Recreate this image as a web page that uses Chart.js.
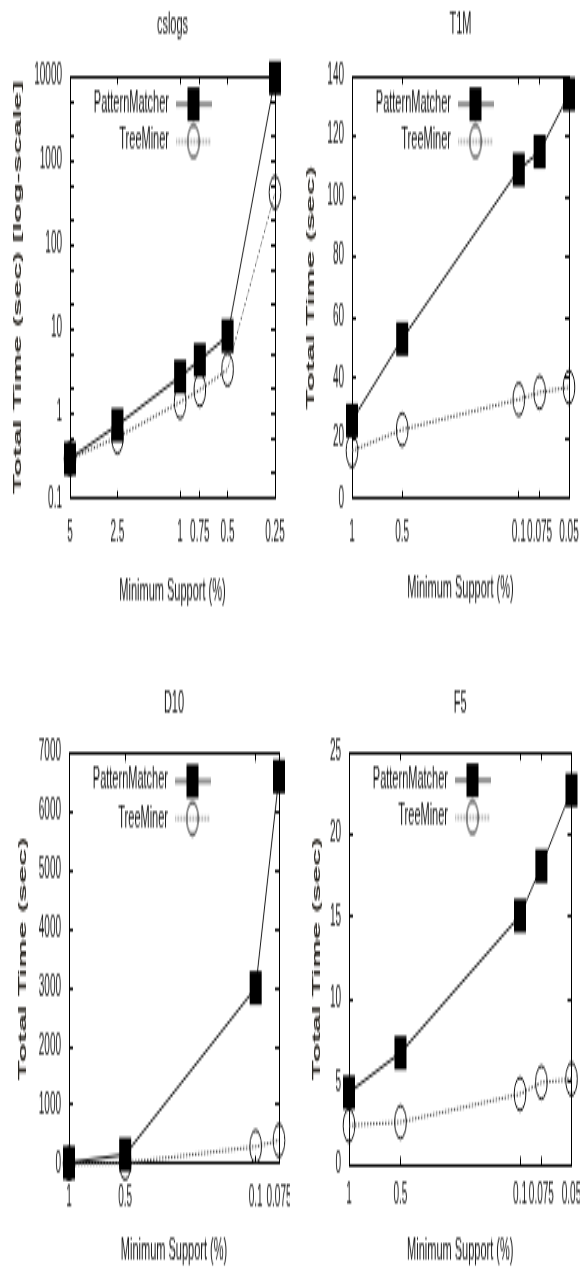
<!DOCTYPE html>
<html lang="en">
<head>
<meta charset="UTF-8">
<title>PatternMatcher vs TreeMiner</title>
<script src="https://cdn.jsdelivr.net/npm/chart.js"></script>
<style>
  body { margin: 0; background: #fff; }
  #wrap { position: relative; width: 580px; height: 1268px; overflow: hidden; }
  #wrap canvas { position: absolute; }
</style>
</head>
<body>
<div id="wrap">
  <canvas id="cslogs" width="290" height="226" style="left:0;top:0;width:290px;height:634px"></canvas>
  <canvas id="t1m" width="290" height="226" style="left:290px;top:0;width:290px;height:634px"></canvas>
  <canvas id="d10" width="290" height="226" style="left:0;top:634px;width:290px;height:634px"></canvas>
  <canvas id="f5" width="290" height="226" style="left:290px;top:634px;width:290px;height:634px"></canvas>
</div>
<script>
// --- data ---
const SERIES = ['PatternMatcher', 'TreeMiner'];

const CSLOGS_SUPPORT = [5, 2.5, 1, 0.75, 0.5, 0.25];
const CSLOGS_LABELS = ['5', '2.5', '1', '0.75', '0.5', '0.25'];
const CSLOGS_PM = [0.3, 0.75, 2.8, 4.4, 8.5, 9500];
const CSLOGS_TM = [0.3, 0.54, 1.4, 1.95, 3.4, 420];
const CSLOGS_Y_MAJOR = [0.1, 1, 10, 100, 1000, 10000];
const CSLOGS_Y_MINOR = [2, 5];

const T1M_SUPPORT = [1, 0.5, 0.1, 0.075, 0.05];
const T1M_LABELS = ['1', '0.5', '0.1', '0.075', '0.05'];
const T1M_PM = [26, 53, 109, 115, 134];
const T1M_TM = [16, 23, 33, 35.3, 37];

const D10_SUPPORT = [1, 0.5, 0.1, 0.075];
const D10_LABELS = ['1', '0.5', '0.1', '0.075'];
const D10_PM = [20, 160, 3000, 6600];
const D10_TM = [5, 15, 295, 400];

const F5_SUPPORT = [1, 0.5, 0.1, 0.075, 0.05];
const F5_LABELS = ['1', '0.5', '0.1', '0.075', '0.05'];
const F5_PM = [4.4, 6.8, 15.1, 18.1, 22.7];
const F5_TM = [2.4, 2.6, 4.3, 5.0, 5.2];

// --- drawing ---
// the figure is a gnuplot plot squeezed vertically, so each canvas is drawn
// small and stretched by css
const W = 290, H = 226;
const FONT = '"Liberation Sans", Arial, sans-serif';
const INK = '#161616';
const XTL = -3, YTL = -4;   // inward tick marks

function keyImage(kind) {
  const c = document.createElement('canvas');
  c.width = 36; c.height = 14;
  const g = c.getContext('2d');
  g.lineWidth = 1;
  g.strokeStyle = kind === 'pm' ? '#222' : '#555';
  if (kind === 'tm') g.setLineDash([1.5, 1.5]);
  g.beginPath(); g.moveTo(0, 7); g.lineTo(36, 7); g.stroke();
  g.setLineDash([]);
  if (kind === 'pm') {
    g.fillStyle = '#000'; g.fillRect(12, 1, 12, 12);
  } else {
    g.strokeStyle = '#111'; g.beginPath(); g.arc(18, 7, 5.8, 0, Math.PI * 2); g.stroke();
  }
  return c;
}
const KEY_IMAGES = [keyImage('pm'), keyImage('tm')];

// place the key inside the plot like gnuplot does
const keyPlacer = {
  id: 'keyPlacer',
  afterLayout(chart, args, o) {
    const lg = chart.legend;
    if (!lg) return;
    const pad = o.pad, bw = o.boxWidth, half = o.fontSize / 2;
    const xr = chart.chartArea.left + o.textRight + bw + half;
    lg.left = xr + pad - lg.width;
    lg.right = lg.left + lg.width;
    lg.top = chart.chartArea.top + o.top;
    lg.bottom = lg.top + lg.height;
  }
};

function sized(size) {
  return s => {
    if (s.isHorizontal()) s.height = size; else s.width = size;
    s.paddingLeft = s.paddingRight = s.paddingTop = s.paddingBottom = 0;
  };
}

function supportAxis(support, labels, position, g) {
  const main = position === 'bottom';
  return {
    type: 'logarithmic',
    position: position,
    reverse: true,
    min: Math.min(...support),
    max: Math.max(...support),
    afterBuildTicks: s => { s.ticks = support.map(v => ({ value: v })); },
    afterFit: sized(main ? H - g.plotBottom : 0),
    grid: { drawOnChartArea: false, drawTicks: true, tickLength: XTL, color: '#000', lineWidth: 1 },
    border: { display: true, color: '#000', width: 1 },
    ticks: {
      display: main,
      autoSkip: false,
      maxRotation: 0,
      padding: g.tickY - g.plotBottom - XTL - 6,
      color: INK,
      font: { family: FONT, size: 10 },
      callback: (v, i) => labels[i]
    },
    title: {
      display: main,
      text: 'Minimum Support (%)',
      color: INK,
      font: { family: FONT, size: 11 },
      padding: { top: 0, bottom: H - g.xTitleY - 6.6 }
    }
  };
}

function timeAxis(y, position, g) {
  const main = position === 'left';
  const ax = {
    type: y.type,
    position: position,
    min: y.min,
    max: y.max,
    afterFit: sized(main ? g.plotLeft : 0),
    grid: { drawOnChartArea: false, drawTicks: true, tickLength: YTL, color: '#000', lineWidth: 1 },
    border: { display: true, color: '#000', width: 1 },
    ticks: {
      display: main,
      autoSkip: false,
      padding: 8 - YTL,
      color: INK,
      font: { family: FONT, size: 10 },
      callback: v => String(v)
    },
    title: {
      display: main,
      text: y.title,
      color: '#2a2620',
      font: { family: FONT, size: 11.5, weight: 'bold' },
      padding: { top: g.yTitleX - 6.9, bottom: 0 }
    }
  };
  if (y.type === 'logarithmic') {
    const vals = y.major.flatMap((v, i, a) =>
      i < a.length - 1 ? [v, ...y.minor.map(m => +(v * m).toPrecision(6))] : [v]);
    ax.afterBuildTicks = s => { s.ticks = vals.map(v => ({ value: v })); };
    ax.ticks.callback = v => (y.major.includes(v) ? String(v) : '');
  } else {
    ax.ticks.stepSize = y.step;
  }
  return ax;
}

function drawPanel(id, name, support, labels, pm, tm, y, g) {
  const pts = arr => support.map((s, i) => ({ x: s, y: arr[i] }));
  new Chart(document.getElementById(id), {
    type: 'line',
    data: {
      datasets: [
        {
          label: SERIES[0], data: pts(pm),
          borderColor: '#1a1a1a', borderWidth: 1, tension: 0, clip: false,
          pointStyle: 'rect', pointRadius: 8.5, pointBackgroundColor: '#000',
          pointBorderColor: '#000', pointBorderWidth: 0
        },
        {
          label: SERIES[1], data: pts(tm),
          borderColor: '#4a4a4a', borderWidth: 1, borderDash: [1.5, 1.5], tension: 0, clip: false,
          pointStyle: 'circle', pointRadius: 5.8, pointBackgroundColor: 'rgba(0,0,0,0)',
          pointBorderColor: '#111', pointBorderWidth: 1
        }
      ]
    },
    options: {
      responsive: false,
      devicePixelRatio: 1,
      animation: false,
      events: [],
      layout: { padding: { left: 0, top: 0, right: W - g.plotRight, bottom: 0 } },
      scales: {
        x: supportAxis(support, labels, 'bottom', g),
        x2: supportAxis(support, labels, 'top', g),
        y: timeAxis(y, 'left', g),
        y2: timeAxis(y, 'right', g)
      },
      plugins: {
        title: {
          display: true, text: name, fullSize: false, color: INK,
          font: { family: FONT, size: 11, weight: 'normal' },
          padding: { top: g.titleY - 6.6, bottom: g.plotTop - g.titleY - 6.6 }
        },
        legend: {
          display: true,
          position: 'chartArea',
          align: 'start',
          rtl: true,
          labels: {
            usePointStyle: true,
            pointStyleWidth: 38,
            boxHeight: 11,
            padding: 2.3,
            color: INK,
            font: { family: FONT, size: 11 },
            generateLabels: chart => chart.data.datasets.map((ds, i) => ({
              text: ds.label, pointStyle: KEY_IMAGES[i], datasetIndex: i,
              hidden: false, lineWidth: 0, fontColor: INK
            }))
          }
        },
        tooltip: { enabled: false },
        keyPlacer: { pad: 2.3, boxWidth: 38, fontSize: 11, textRight: 99, top: 2.2 }
      }
    },
    plugins: [keyPlacer]
  });
}

drawPanel('cslogs', 'cslogs', CSLOGS_SUPPORT, CSLOGS_LABELS, CSLOGS_PM, CSLOGS_TM,
  { type: 'logarithmic', min: 0.1, max: 10000, major: CSLOGS_Y_MAJOR, minor: CSLOGS_Y_MINOR,
    title: 'Total Time (sec) [log-scale]' },
  { plotLeft: 70, plotRight: 275, plotTop: 27.1, plotBottom: 177.9, titleY: 8.9, tickY: 190, xTitleY: 211, yTitleX: 18 });

drawPanel('t1m', 'T1M', T1M_SUPPORT, T1M_LABELS, T1M_PM, T1M_TM,
  { type: 'linear', min: 0, max: 140, step: 20, title: 'Total Time (sec)' },
  { plotLeft: 62, plotRight: 279, plotTop: 27.1, plotBottom: 177.9, titleY: 8.9, tickY: 190, xTitleY: 210.3, yTitleX: 21 });

drawPanel('d10', 'D10', D10_SUPPORT, D10_LABELS, D10_PM, D10_TM,
  { type: 'linear', min: 0, max: 7000, step: 1000, title: 'Total Time (sec)' },
  { plotLeft: 69, plotRight: 279, plotTop: 42.4, plotBottom: 188.9, titleY: 24.6, tickY: 201, xTitleY: 219.6, yTitleX: 23 });

drawPanel('f5', 'F5', F5_SUPPORT, F5_LABELS, F5_PM, F5_TM,
  { type: 'linear', min: 0, max: 25, step: 5, title: 'Total Time (sec)' },
  { plotLeft: 59, plotRight: 283, plotTop: 42.1, plotBottom: 189.3, titleY: 24.6, tickY: 200.7, xTitleY: 220.3, yTitleX: 27 });
</script>
</body>
</html>
